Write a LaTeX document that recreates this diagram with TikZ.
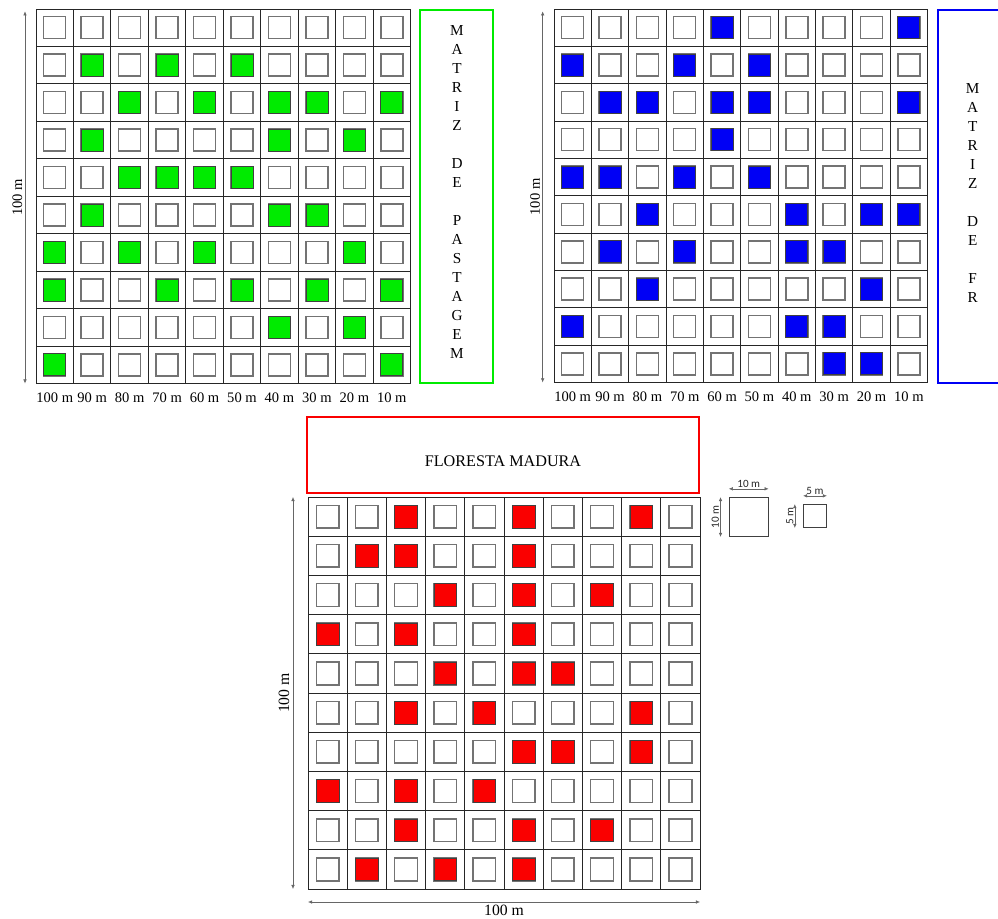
\documentclass[tikz,border=0pt]{standalone}
\usepackage{fontspec}
\setmainfont{Liberation Serif}
\newfontfamily\legendfont{Carlito}
\usetikzlibrary{arrows.meta}
\definecolor{pasto}{RGB}{0,235,0}
\definecolor{regen}{RGB}{0,0,245}
\definecolor{mata}{RGB}{250,0,0}

\begin{document}
\begin{tikzpicture}[
    x=0.03cm, y=-0.03cm,
    cellA/.style={draw=black!85, line width=0.75pt, minimum size=1.1235cm,
                  inner sep=0pt, outer sep=0pt},
    cellB/.style={cellA, minimum size=1.176cm},
    plot/.style={draw=black!55, line width=1.3pt, fill=white, minimum size=0.66cm,
                 inner sep=0pt},
    hit/.style={plot, draw=black!75, line width=0.6pt, fill=#1},
    dim/.style={{Latex[length=3.5pt,width=3pt]}-{Latex[length=3.5pt,width=3pt]},
                black!60, line width=0.5pt},
    lbl/.style={font=\fontsize{12.4}{14}\selectfont, inner sep=0pt, text=black},
    tag/.style={draw=#1, line width=1.6pt, inner sep=0pt},
    word/.style={align=center, inner sep=0pt, font=\fontsize{13}{16.2}\selectfont},
    leg/.style={font=\legendfont\fontsize{9.5}{10}\selectfont, inner sep=1pt, text=black!85}
]
\clip (0,0) rectangle (998,919);

% matriz de pastagem
\foreach \r in {1,...,10}
  \foreach \c in {1,...,10} {
    \node[cellA] (pa-\r-\c) at ({36+37.45*(\c-0.5)}, {9+37.45*(\r-0.5)}) {};
    \node[plot] at (pa-\r-\c) {};
  }
\foreach \r/\c in {2/2,2/4,2/6, 3/3,3/5,3/7,3/8,3/10, 4/2,4/7,4/9, 5/3,5/4,5/5,5/6,
                   6/2,6/7,6/8, 7/1,7/3,7/5,7/9, 8/1,8/4,8/6,8/8,8/10, 9/7,9/9, 10/1,10/10}
  \node[hit=pasto] at (pa-\r-\c) {};

% matriz de FR
\foreach \r in {1,...,10}
  \foreach \c in {1,...,10} {
    \node[cellA, minimum size=1.1205cm] (fr-\r-\c) at ({554+37.35*(\c-0.5)}, {9+37.35*(\r-0.5)}) {};
    \node[plot] at (fr-\r-\c) {};
  }
\foreach \r/\c in {1/5,1/10, 2/1,2/4,2/6, 3/2,3/3,3/5,3/6,3/10, 4/5, 5/1,5/2,5/4,5/6,
                   6/3,6/7,6/9,6/10, 7/2,7/4,7/7,7/8, 8/3,8/9, 9/1,9/7,9/8, 10/8,10/9}
  \node[hit=regen] at (fr-\r-\c) {};

% floresta madura
\foreach \r in {1,...,10}
  \foreach \c in {1,...,10} {
    \node[cellB] (fm-\r-\c) at ({308+39.2*(\c-0.5)}, {497+39.2*(\r-0.5)}) {};
    \node[plot, minimum size=0.68cm] at (fm-\r-\c) {};
  }
\foreach \r/\c in {1/3,1/6,1/9, 2/2,2/3,2/6, 3/4,3/6,3/8, 4/1,4/3,4/6, 5/4,5/6,5/7,
                   6/3,6/5,6/9, 7/6,7/7,7/9, 8/1,8/3,8/5, 9/3,9/6,9/8, 10/2,10/4,10/6}
  \node[hit=mata, minimum size=0.68cm] at (fm-\r-\c) {};

% distance labels
\foreach \c/\d in {1/100,2/90,3/80,4/70,5/60,6/50,7/40,8/30,9/20,10/10} {
  \node[lbl] at ([yshift=-12pt]pa-10-\c.south) {\d\ m};
  \node[lbl] at ([yshift=-12pt]fr-10-\c.south) {\d\ m};
}

\draw[dim] ([xshift=-0.33cm,yshift=-2pt]pa-1-1.north west) -- ([xshift=-0.33cm]pa-10-1.south west)
    node[midway, rotate=90, above=2pt, lbl] {100 m};
\draw[dim] ([xshift=-0.34cm,yshift=-2pt]fr-1-1.north west) -- ([xshift=-0.34cm]fr-10-1.south west)
    node[midway, rotate=90, above=2pt, lbl] {100 m};
\draw[dim] ([xshift=-0.45cm]fm-1-1.north west) -- ([xshift=-0.45cm]fm-10-1.south west)
    node[midway, rotate=90, above=3pt, lbl, font=\fontsize{13.4}{15}\selectfont] {100 m};
\draw[dim] ([yshift=-0.39cm]fm-10-1.south west) -- ([yshift=-0.39cm]fm-10-10.south east)
    node[midway, below=2pt, lbl, font=\fontsize{13.4}{15}\selectfont] {100 m};

% title boxes
\node[tag=pasto, minimum width=2.19cm, minimum height=11.19cm] (pa-box) at (456.5,196.5) {};
\node[word] (pa-txt) at (457,192) {M\\A\\T\\R\\I\\Z\\~\\D\\E\\~\\P\\A\\S\\T\\A\\G\\E\\M};
\node[tag=regen, minimum width=2.4cm, minimum height=11.19cm] (fr-box) at (978,196.5) {};
\node[word] (fr-txt) at (972.7,193) {M\\A\\T\\R\\I\\Z\\~\\D\\E\\~\\F\\R};
\node[tag=mata, minimum width=11.76cm, minimum height=2.28cm] (fm-box) at (503,455.3) {};
\node[lbl, font=\fontsize{13.8}{16}\selectfont] (fm-txt) at (503,461) {FLORESTA MADURA};

% legenda
\node[draw=black!75, line width=0.8pt, minimum size=1.17cm, inner sep=0pt] (q10) at (748.7,517) {};
\node[draw=black!75, line width=0.8pt, minimum size=0.69cm, inner sep=0pt] (q5) at (815,516) {};
\draw[dim] ([yshift=7pt]q10.north west) -- ([yshift=7pt]q10.north east)
    node[midway, above=0pt, leg] {10 m};
\draw[dim] ([xshift=-7pt]q10.north west) -- ([xshift=-7pt]q10.south west)
    node[midway, rotate=90, above=0pt, leg] {10 m};
\draw[dim] ([yshift=7pt]q5.north west) -- ([yshift=7pt]q5.north east)
    node[midway, above=0pt, leg] {5 m};
\draw[dim] ([xshift=-7pt]q5.north west) -- ([xshift=-7pt]q5.south west)
    node[midway, rotate=90, above=0pt, leg] {5 m};

\end{tikzpicture}
\end{document}
